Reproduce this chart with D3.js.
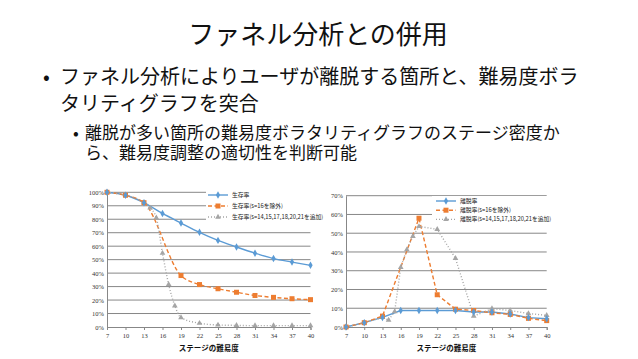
<!DOCTYPE html>
<html><head><meta charset="utf-8">
<script src="https://cdnjs.cloudflare.com/ajax/libs/d3/7.8.5/d3.min.js"></script>
<style>
html,body{margin:0;padding:0;background:#fff;}
svg{display:block;}
</style></head>
<body>
<script>
// ---------- data ----------
const stageTicks = [7,10,13,16,19,22,25,28,31,34,37,40];

// left chart: survival rate (%)
const survStages = [7,10,13,16,19,22,25,28,31,34,37,40];
const survValues = [100,97.8,92.3,84.3,77.2,70.3,64.3,59.4,54.8,50.8,48.2,45.8];
const survExclStages = [7,10,13,19,22,25,28,31,34,37,40];
const survExclValues = [100,97.8,92.3,38.2,31.5,28.4,25.8,23.4,22.0,21.0,20.3];
const survAddStages = [7,10,13,14,15,16,17,18,19,22,25,28,31,34,37,40];
const survAddValues = [100,97.8,92.3,88.4,81,54.8,31.6,15.7,7,2.8,1.5,1.2,1,1,1,1];
const survTicks = [0,10,20,30,40,50,60,70,80,90,100];
const survLegend = ["生存率","生存率(s=16を除外)","生存率(s=14,15,17,18,20,21を追加)"];

// right chart: churn rate (%)
const churnStages = [7,10,13,16,19,22,25,28,31,34,37,40];
const churnValues = [0,2.3,5.1,8.8,8.8,8.8,8.8,8.0,8.0,6.9,5.0,4.4];
const churnExclStages = [7,10,13,19,22,25,28,31,34,37,40];
const churnExclValues = [0,2.3,5.8,58,17.2,9.5,8.8,7.6,6.7,4.6,3.4];
const churnAddStages = [7,10,13,14,15,16,17,18,19,22,25,28,31,34,37,40];
const churnAddValues = [0,2.3,5.1,3.7,8.2,31.8,41.2,48.3,53.6,52.1,36.6,5.8,9.8,8.8,7.2,6.2];
const churnTicks = [0,10,20,30,40,50,60,70];
const churnLegend = ["離脱率","離脱率(s=16を除外)","離脱率(s=14,15,17,18,20,21を追加)"];

const axisTitle = "ステージの難易度";
const titleText = "ファネル分析との併用";
const bullets = [
  "ファネル分析によりユーザが離脱する箇所と、難易度ボラ",
  "タリティグラフを突合"
];
const subBullets = [
  "離脱が多い箇所の難易度ボラタリティグラフのステージ密度か",
  "ら、難易度調整の適切性を判断可能"
];

// ---------- drawing ----------
const W = 638, H = 359;
const colors = ["#5B9BD5","#ED7D31","#A5A5A5"];
const gridColor = "#878787";
const jp = "'Noto Sans CJK JP','Noto Sans',sans-serif";
const serif = "'Liberation Serif','DejaVu Serif',serif";

const svg = d3.select("body").append("svg").attr("width",W).attr("height",H);
svg.append("rect").attr("width",W).attr("height",H).attr("fill","#fff");

svg.append("text").attr("x",318).attr("y",44).attr("text-anchor","middle")
  .attr("font-family",jp).attr("font-size",26).attr("fill","#111").text(titleText);

svg.append("text").attr("x",43).attr("y",84).attr("font-family",jp).attr("font-size",20).attr("fill","#111").text("•");
bullets.forEach((t,i)=>{
  svg.append("text").attr("x",60).attr("y",84+i*27).attr("font-family",jp)
    .attr("font-size",20).attr("fill","#111").text(t);
});
svg.append("text").attr("x",73).attr("y",139).attr("font-family",jp).attr("font-size",17).attr("fill","#111").text("•");
subBullets.forEach((t,i)=>{
  svg.append("text").attr("x",85).attr("y",139+i*20).attr("font-family",jp)
    .attr("font-size",17).attr("fill","#111").text(t);
});

function marker(g, type, x, y, color){
  if(type===0){
    g.append("path").attr("d",d3.symbol(d3.symbolDiamond,16)()).attr("transform",`translate(${x},${y})`).attr("fill",color);
  } else if(type===1){
    g.append("rect").attr("x",x-2.5).attr("y",y-2.5).attr("width",5).attr("height",5).attr("fill",color);
  } else {
    g.append("path").attr("d",d3.symbol(d3.symbolTriangle,14)()).attr("transform",`translate(${x},${y})`).attr("fill",color);
  }
}

function drawChart(cfg){
  const g = svg.append("g");
  const x = d3.scaleLinear().domain([7,40]).range([cfg.x0,cfg.x1]);
  const y = d3.scaleLinear().domain([0,cfg.yMax]).range([cfg.y0,cfg.y1]);

  // gridlines
  g.selectAll(".grid").data(cfg.yTicks.filter(v=>v>0)).enter().append("line")
    .attr("x1",cfg.x0).attr("x2",cfg.x1).attr("y1",d=>y(d)).attr("y2",d=>y(d))
    .attr("stroke",gridColor).attr("stroke-width",1);

  // y axis
  const ya = d3.axisLeft(y).tickValues(cfg.yTicks).tickSize(0).tickPadding(3).tickFormat(d=>d+"%");
  const yg = g.append("g").attr("transform",`translate(${cfg.x0},0)`).call(ya);
  yg.select(".domain").attr("stroke",gridColor);
  yg.selectAll("text").attr("font-family",serif).attr("font-size",6.5).attr("fill","#333");

  // x axis
  const xa = d3.axisBottom(x).tickValues(stageTicks).tickSize(3).tickPadding(3).tickFormat(d3.format("d"));
  const xg = g.append("g").attr("transform",`translate(0,${cfg.y0})`).call(xa);
  xg.select(".domain").attr("stroke",gridColor);
  xg.selectAll(".tick line").attr("stroke",gridColor);
  xg.selectAll("text").attr("font-family",serif).attr("font-size",6.5).attr("fill","#333");

  g.append("text").attr("x",(cfg.x0+cfg.x1)/2).attr("y",351).attr("text-anchor","middle")
    .attr("font-family",jp).attr("font-weight","bold").attr("font-size",7.5).attr("fill","#111")
    .text(axisTitle);

  // series
  const dashes = [null,"4,2.5","1,2"];
  cfg.series.forEach((s,i)=>{
    const pts = s.xs.map((v,j)=>[x(v),y(s.ys[j])]);
    const line = d3.line().curve(cfg.smooth ? d3.curveMonotoneX : d3.curveLinear);
    g.append("path").attr("d",line(pts)).attr("fill","none").attr("stroke",colors[i])
      .attr("stroke-width",1.4).attr("stroke-dasharray",dashes[i]);
  });
  [2,1,0].forEach(i=>{
    const s = cfg.series[i];
    s.xs.forEach((v,j)=>marker(g,i,x(v),y(s.ys[j]),colors[i]));
  });

  // legend
  const L = cfg.legend;
  g.append("rect").attr("x",L.x).attr("y",L.y).attr("width",L.w).attr("height",L.h).attr("fill","#fff");
  cfg.labels.forEach((t,i)=>{
    const ly = L.y + L.pad + i*L.step;
    g.append("line").attr("x1",L.lx).attr("x2",L.lx+20).attr("y1",ly).attr("y2",ly)
      .attr("stroke",colors[i]).attr("stroke-width",1.4).attr("stroke-dasharray",dashes[i]);
    marker(g,i,L.lx+10,ly,colors[i]);
    g.append("text").attr("x",L.lx+24).attr("y",ly+2).attr("font-family",jp)
      .attr("font-size",5.8).attr("fill","#222").text(t);
  });
}

drawChart({
  x0:107, x1:310.5, y0:327, y1:192.3, yMax:100, yTicks:survTicks, smooth:true,
  series:[
    {xs:survStages, ys:survValues},
    {xs:survExclStages, ys:survExclValues},
    {xs:survAddStages, ys:survAddValues}
  ],
  labels:survLegend,
  legend:{x:206,y:188,w:116,h:35,pad:7,step:11,lx:208}
});

drawChart({
  x0:346, x1:546.7, y0:327, y1:195.7, yMax:70, yTicks:churnTicks, smooth:false,
  series:[
    {xs:churnStages, ys:churnValues},
    {xs:churnExclStages, ys:churnExclValues},
    {xs:churnAddStages, ys:churnAddValues}
  ],
  labels:churnLegend,
  legend:{x:432,y:196,w:116,h:29,pad:5,step:9.2,lx:436}
});
</script>
</body></html>
